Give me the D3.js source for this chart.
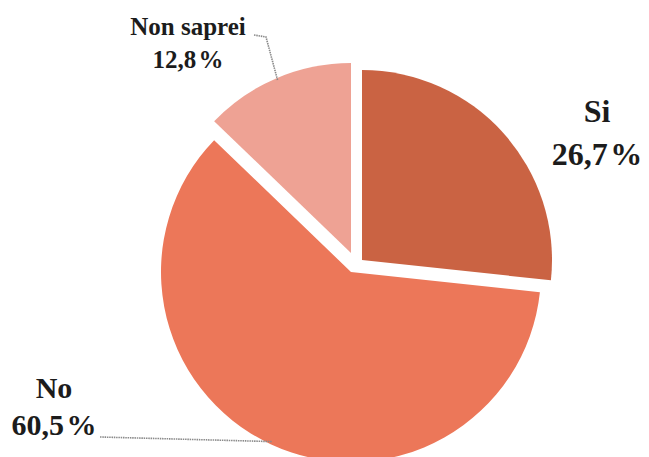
<!DOCTYPE html>
<html>
<head>
<meta charset="utf-8">
<script src="https://cdn.jsdelivr.net/npm/d3@7"></script>
<style>
  html, body { margin: 0; padding: 0; background: #fff; }
  svg { display: block; }
</style>
</head>
<body>
<div id="chart"></div>
<script>
// data
const categories = ["Si", "No", "Non saprei"];
const values = [26.7, 60.5, 12.8];
const colors = ["#ca6343", "#ec7759", "#eea294"];

// layout
const width = 649, height = 457;
const cx = 351, cy = 272, radius = 190;
// how far each slice is pulled out of the pie
const offsets = { "Si": [11, -12], "No": [0, 0], "Non saprei": [0, -19] };
const serif = "'Liberation Serif', 'Times New Roman', Times, serif";

const svg = d3.select("#chart").append("svg")
    .attr("width", width)
    .attr("height", height);

const g = svg.append("g").attr("transform", `translate(${cx},${cy})`);

const pie = d3.pie().sort(null).value(d => d.value);
const slices = pie(categories.map((c, i) => ({ name: c, value: values[i], color: colors[i] })));

const arc = d3.arc().innerRadius(0).outerRadius(radius);
const edge = d3.arc().innerRadius(radius).outerRadius(radius);

g.selectAll("path")
    .data(slices)
    .enter()
    .append("path")
    .attr("transform", d => `translate(${offsets[d.data.name]})`)
    .attr("d", arc)
    .attr("fill", d => d.data.color);

const fmt = v => d3.format(".1f")(v).replace(".", ",") + "\u200A%";

// label settings: position of the text block, font size, leader line start
const labels = {
    "Si": { x: 597, y: 122, size: 32, gap: 43, line: null },
    "No": { x: 54, y: 398, size: 30, gap: 37, line: [[100, 437]] },
    "Non saprei": { x: 188, y: 35, size: 25, gap: 33, line: [[254, 35], [266, 37]] }
};

slices.forEach(d => {
    const L = labels[d.data.name];
    const t = svg.append("text")
        .attr("text-anchor", "middle")
        .attr("font-family", serif)
        .attr("font-weight", "bold")
        .attr("fill", "#1c1c1c")
        .attr("font-size", L.size);
    t.append("tspan").attr("x", L.x).attr("y", L.y).text(d.data.name);
    t.append("tspan").attr("x", L.x).attr("y", L.y + L.gap).text(fmt(d.data.value));

    if (L.line) {
        const off = offsets[d.data.name];
        const p = edge.centroid(d);
        const end = [cx + off[0] + p[0] * 0.985, cy + off[1] + p[1] * 0.985];
        svg.append("path")
            .attr("d", d3.line()(L.line.concat([end])))
            .attr("fill", "none")
            .attr("stroke", "#8a8a8a")
            .attr("stroke-width", 1.6)
            .attr("stroke-dasharray", "1.5,0.8");
    }
});
</script>
</body>
</html>
